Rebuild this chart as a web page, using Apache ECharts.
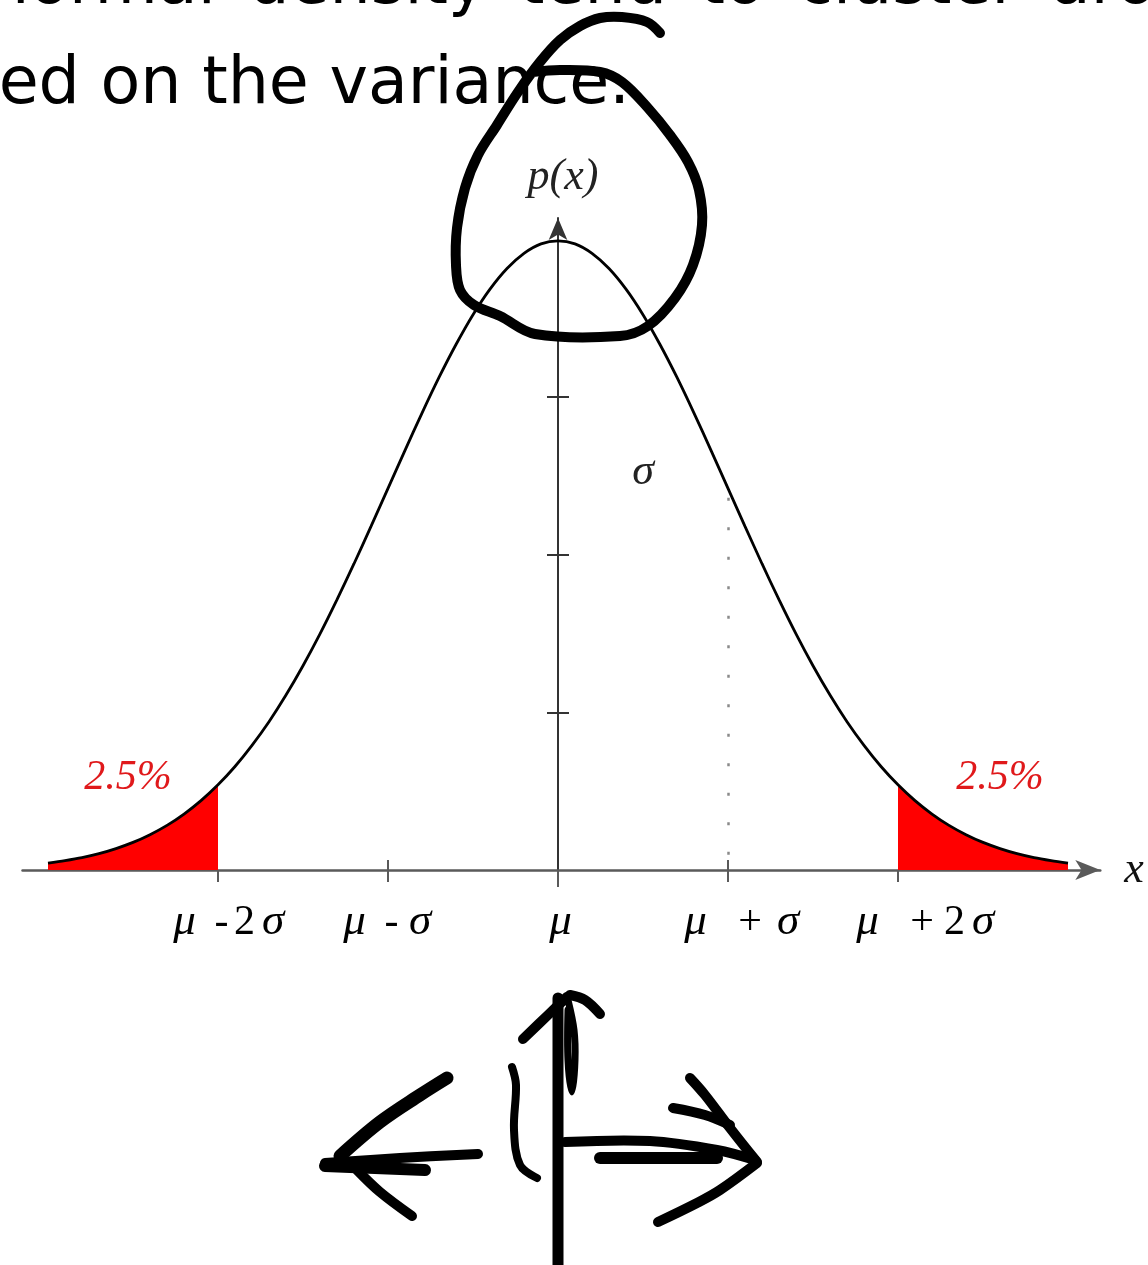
<!DOCTYPE html>
<html>
<head>
<meta charset="utf-8">
<script src="https://cdn.jsdelivr.net/npm/echarts@6/dist/echarts.min.js"></script>
<style>
  html, body { margin: 0; padding: 0; background: #ffffff; }
  #chart { width: 1148px; height: 1265px; }
</style>
</head>
<body>
<div id="chart"></div>
<script>
// Normal density p(x), tabulated at tenth-sigma steps around the mean
const sigmaSteps = [
  -3.0, -2.9, -2.8, -2.7, -2.6, -2.5, -2.4, -2.3, -2.2, -2.1,
  -2.0, -1.9, -1.8, -1.7, -1.6, -1.5, -1.4, -1.3, -1.2, -1.1,
  -1.0, -0.9, -0.8, -0.7, -0.6, -0.5, -0.4, -0.3, -0.2, -0.1,
   0.0,  0.1,  0.2,  0.3,  0.4,  0.5,  0.6,  0.7,  0.8,  0.9,
   1.0,  1.1,  1.2,  1.3,  1.4,  1.5,  1.6,  1.7,  1.8,  1.9,
   2.0,  2.1,  2.2,  2.3,  2.4,  2.5,  2.6,  2.7,  2.8,  2.9, 3.0
];
const density = [
  0.0044, 0.0060, 0.0079, 0.0104, 0.0136, 0.0175, 0.0224, 0.0283, 0.0355, 0.0440,
  0.0540, 0.0656, 0.0790, 0.0940, 0.1109, 0.1295, 0.1497, 0.1714, 0.1942, 0.2179,
  0.2420, 0.2661, 0.2897, 0.3123, 0.3332, 0.3521, 0.3683, 0.3814, 0.3910, 0.3970,
  0.3989, 0.3970, 0.3910, 0.3814, 0.3683, 0.3521, 0.3332, 0.3123, 0.2897, 0.2661,
  0.2420, 0.2179, 0.1942, 0.1714, 0.1497, 0.1295, 0.1109, 0.0940, 0.0790, 0.0656,
  0.0540, 0.0440, 0.0355, 0.0283, 0.0224, 0.0175, 0.0136, 0.0104, 0.0079, 0.0060, 0.0044
];

// Axis ticks along x (in sigma units) and their labels
const tickValues = [-2, -1, 0, 1, 2];
const tickLabels = ['μ - 2σ', 'μ - σ', 'μ', 'μ + σ', 'μ + 2σ'];

// Tail cut-offs and the share of probability in each tail
const lowerCut = -2;
const upperCut = 2;
const tailShare = '2.5%';

// Reference line at one sigma
const oneSigma = 1;

// Slide text above the figure
const slideLines = ['normal density tend to cluster around', 'ed on the variance.'];

const chart = echarts.init(document.getElementById('chart'), null, { renderer: 'canvas' });

const curve = sigmaSteps.map((x, i) => [x, density[i]]);
const lowerTail = curve.filter(p => p[0] <= lowerCut);
const upperTail = curve.filter(p => p[0] >= upperCut);
const densityAt = x => density[sigmaSteps.indexOf(x)];

const serif = '"Liberation Serif", "Times New Roman", serif';

// ---- rich-text tick labels: Greek letters italic, digits and operators upright
const tokenOf = { 'μ': 'mu', 'σ': 'sg', '-': 'mi', '+': 'pl', '2': 'tw' };
const gapBefore = { mi: 'gm', pl: 'gp' };
const tokenWidth = { mu: 25, sg: 34, mi: 23, pl: 42, tw: 23, gm: 13, gp: 21 };
const labelLeft = [-46, -46, -10, -45, -43];   // left edge of each label relative to its tick
const baseText = { fontFamily: serif, fontSize: 42, color: '#000' };
const greek = { fontStyle: 'italic', fontSize: 45 };
const rich = {
  mu: Object.assign({}, baseText, greek, { width: tokenWidth.mu }),
  sg: Object.assign({}, baseText, greek, { width: tokenWidth.sg }),
  mi: Object.assign({}, baseText, { width: tokenWidth.mi }),
  pl: Object.assign({}, baseText, { width: tokenWidth.pl }),
  tw: Object.assign({}, baseText, { width: tokenWidth.tw }),
  gm: Object.assign({}, baseText, { width: tokenWidth.gm }),
  gp: Object.assign({}, baseText, { width: tokenWidth.gp })
};
const labelMarkup = tickLabels.map((label, i) => {
  let parts = '';
  let w = 0;
  for (const ch of label) {
    const t = tokenOf[ch];
    if (!t) continue;
    if (gapBefore[t]) { parts += '{' + gapBefore[t] + '| }'; w += tokenWidth[gapBefore[t]]; }
    parts += '{' + t + '|' + ch + '}';
    w += tokenWidth[t];
  }
  const shift = Math.round(2 * (labelLeft[i] + w / 2));
  if (shift > 0) {
    const padName = 'pad' + shift;
    rich[padName] = Object.assign({}, baseText, { width: shift });
    parts = '{' + padName + '| }' + parts;
  }
  return parts;
});

const axisGrey = '#5a5a5a';
const plainAxis = {
  type: 'value', min: -3.15, max: 3.19,
  axisLine: { show: false, onZero: true },
  axisLabel: { show: false },
  splitLine: { show: false }
};

// ---- hand-drawn pen strokes
const pen = (points, width) => ({
  type: 'polyline',
  shape: { points: points, smooth: 0.35 },
  style: { stroke: '#000', lineWidth: width, fill: null, lineCap: 'round', lineJoin: 'round' },
  z: 100
});

const option = {
  animation: false,
  backgroundColor: '#ffffff',
  grid: { left: 22.5, right: 47.7, top: 218, bottom: 395, containLabel: false },
  xAxis: [
    {
      type: 'value', min: -3.15, max: 3.19, position: 'bottom',
      axisLine: {
        show: true, onZero: true,
        symbol: ['none', 'arrow'], symbolSize: [15, 25],
        lineStyle: { color: axisGrey, width: 2.5 }
      },
      axisTick: { show: true, customValues: [-2, -1, 1, 2], length: 12, lineStyle: { color: axisGrey, width: 2 } },
      axisLabel: {
        show: true, customValues: tickValues, margin: 30,
        formatter: v => labelMarkup[tickValues.indexOf(v)] || '',
        rich: rich
      },
      splitLine: { show: false },
      name: 'x', nameLocation: 'end', nameGap: 24,
      nameTextStyle: { fontFamily: serif, fontStyle: 'italic', fontSize: 44, color: '#111', verticalAlign: 'middle', align: 'left' }
    },
    Object.assign({}, plainAxis, {
      position: 'top',
      axisTick: { show: true, customValues: [-1, 1], length: 10, lineStyle: { color: axisGrey, width: 2 } }
    }),
    Object.assign({}, plainAxis, {
      position: 'bottom',
      axisTick: { show: true, customValues: [0], length: 17, lineStyle: { color: axisGrey, width: 2 } }
    })
  ],
  yAxis: [
    {
      type: 'value', min: 0, max: 0.4134, position: 'left',
      axisLine: {
        show: true, onZero: true,
        symbol: ['none', 'arrow'], symbolSize: [14, 22],
        lineStyle: { color: '#333', width: 2 }
      },
      axisTick: { show: true, customValues: [0.1, 0.2, 0.3], length: 11, lineStyle: { color: '#333', width: 2 } },
      axisLabel: { show: false },
      splitLine: { show: false },
      name: 'p(x)', nameLocation: 'end', nameGap: 19,
      nameTextStyle: { fontFamily: serif, fontStyle: 'italic', fontSize: 44, color: '#222', align: 'center', padding: [0, 0, 0, 10] }
    },
    {
      type: 'value', min: 0, max: 0.4134, position: 'right',
      axisLine: { show: false, onZero: true },
      axisTick: { show: true, customValues: [0.1, 0.2, 0.3], length: 11, lineStyle: { color: '#333', width: 2 } },
      axisLabel: { show: false },
      splitLine: { show: false }
    }
  ],
  series: [
    {
      name: 'lower tail', type: 'line', data: lowerTail, smooth: 0.3,
      showSymbol: false, symbol: 'none',
      lineStyle: { color: '#ff0000', width: 1 },
      areaStyle: { color: '#ff0000', opacity: 1 },
      markPoint: {
        symbol: 'circle', symbolSize: 0,
        label: { show: true, position: 'inside', formatter: tailShare, fontFamily: serif, fontStyle: 'italic', fontSize: 42, color: '#e0191b' },
        data: [{ coord: [-2.53, 0.0583] }]
      },
      z: 2
    },
    {
      name: 'upper tail', type: 'line', data: upperTail, smooth: 0.3,
      showSymbol: false, symbol: 'none',
      lineStyle: { color: '#ff0000', width: 1 },
      areaStyle: { color: '#ff0000', opacity: 1 },
      markPoint: {
        symbol: 'circle', symbolSize: 0,
        label: { show: true, position: 'inside', formatter: tailShare, fontFamily: serif, fontStyle: 'italic', fontSize: 42, color: '#e0191b' },
        data: [{ coord: [2.6, 0.0583] }]
      },
      z: 2
    },
    {
      name: 'p(x)', type: 'line', data: curve, smooth: 0.3,
      showSymbol: false, symbol: 'none',
      lineStyle: { color: '#000', width: 2.8 },
      markLine: {
        silent: true, symbol: ['none', 'none'],
        label: { show: false },
        lineStyle: { color: '#8a8a8a', width: 2.5, type: [3, 26.5] },
        data: [[{ coord: [oneSigma, densityAt(oneSigma) - 0.006] }, { coord: [oneSigma, 0] }]]
      },
      markPoint: {
        symbol: 'circle', symbolSize: 0,
        label: { show: true, position: 'inside', formatter: 'σ', fontFamily: serif, fontStyle: 'italic', fontSize: 44, color: '#222' },
        data: [{ coord: [0.5, 0.252] }]
      },
      z: 3
    }
  ],
  graphic: [
    {
      type: 'text', x: -12, y: -14, z: 50,
      style: { text: slideLines[0].replace(/ /g, '\u2002'), font: '65px "DejaVu Sans"', fill: '#000', textAlign: 'left', align: 'left', textVerticalAlign: 'middle', verticalAlign: 'middle' }
    },
    {
      type: 'text', x: 630, y: 86, z: 50,
      style: { text: slideLines[1], font: '65px "DejaVu Sans"', fill: '#000', textAlign: 'right', align: 'right', textVerticalAlign: 'middle', verticalAlign: 'middle' }
    },
    // loop drawn around the peak
    pen([[660, 33], [647, 22], [622, 17], [600, 18], [580, 26], [560, 40], [540, 62], [518, 92], [497, 125], [478, 155],
         [465, 188], [457, 228], [456, 265], [460, 290], [474, 305], [500, 316], [535, 334], [620, 336], [648, 326],
         [675, 298], [693, 265], [702, 225], [699, 190], [688, 162], [670, 135], [648, 108], [622, 82], [600, 72],
         [560, 70], [533, 72]], 10),
    // vertical stroke with upward arrow
    pen([[558, 998], [558, 1265]], 11),
    pen([[523, 1039], [548, 1015], [567, 997]], 10),
    pen([[570, 995], [585, 1000], [600, 1014]], 10),
    pen([[568, 1000], [574, 1030], [575, 1060], [572, 1092], [568, 1060], [568, 1010]], 7),
    pen([[512, 1067], [516, 1085], [514, 1130], [520, 1165], [537, 1178]], 8),
    // left arrow
    pen([[325, 1163], [400, 1158], [478, 1154]], 10),
    pen([[325, 1166], [425, 1170]], 12),
    pen([[340, 1156], [380, 1122], [420, 1095], [447, 1078]], 13),
    pen([[357, 1170], [380, 1192], [412, 1216]], 10),
    // right arrow
    pen([[565, 1142], [650, 1141], [717, 1150], [755, 1160]], 10),
    pen([[600, 1158], [717, 1158]], 12),
    pen([[690, 1078], [705, 1095], [730, 1128], [757, 1162]], 10),
    pen([[673, 1108], [705, 1115], [730, 1125]], 10),
    pen([[757, 1163], [720, 1190], [697, 1203], [658, 1222]], 10)
  ]
};

chart.setOption(option);
</script>
</body>
</html>
